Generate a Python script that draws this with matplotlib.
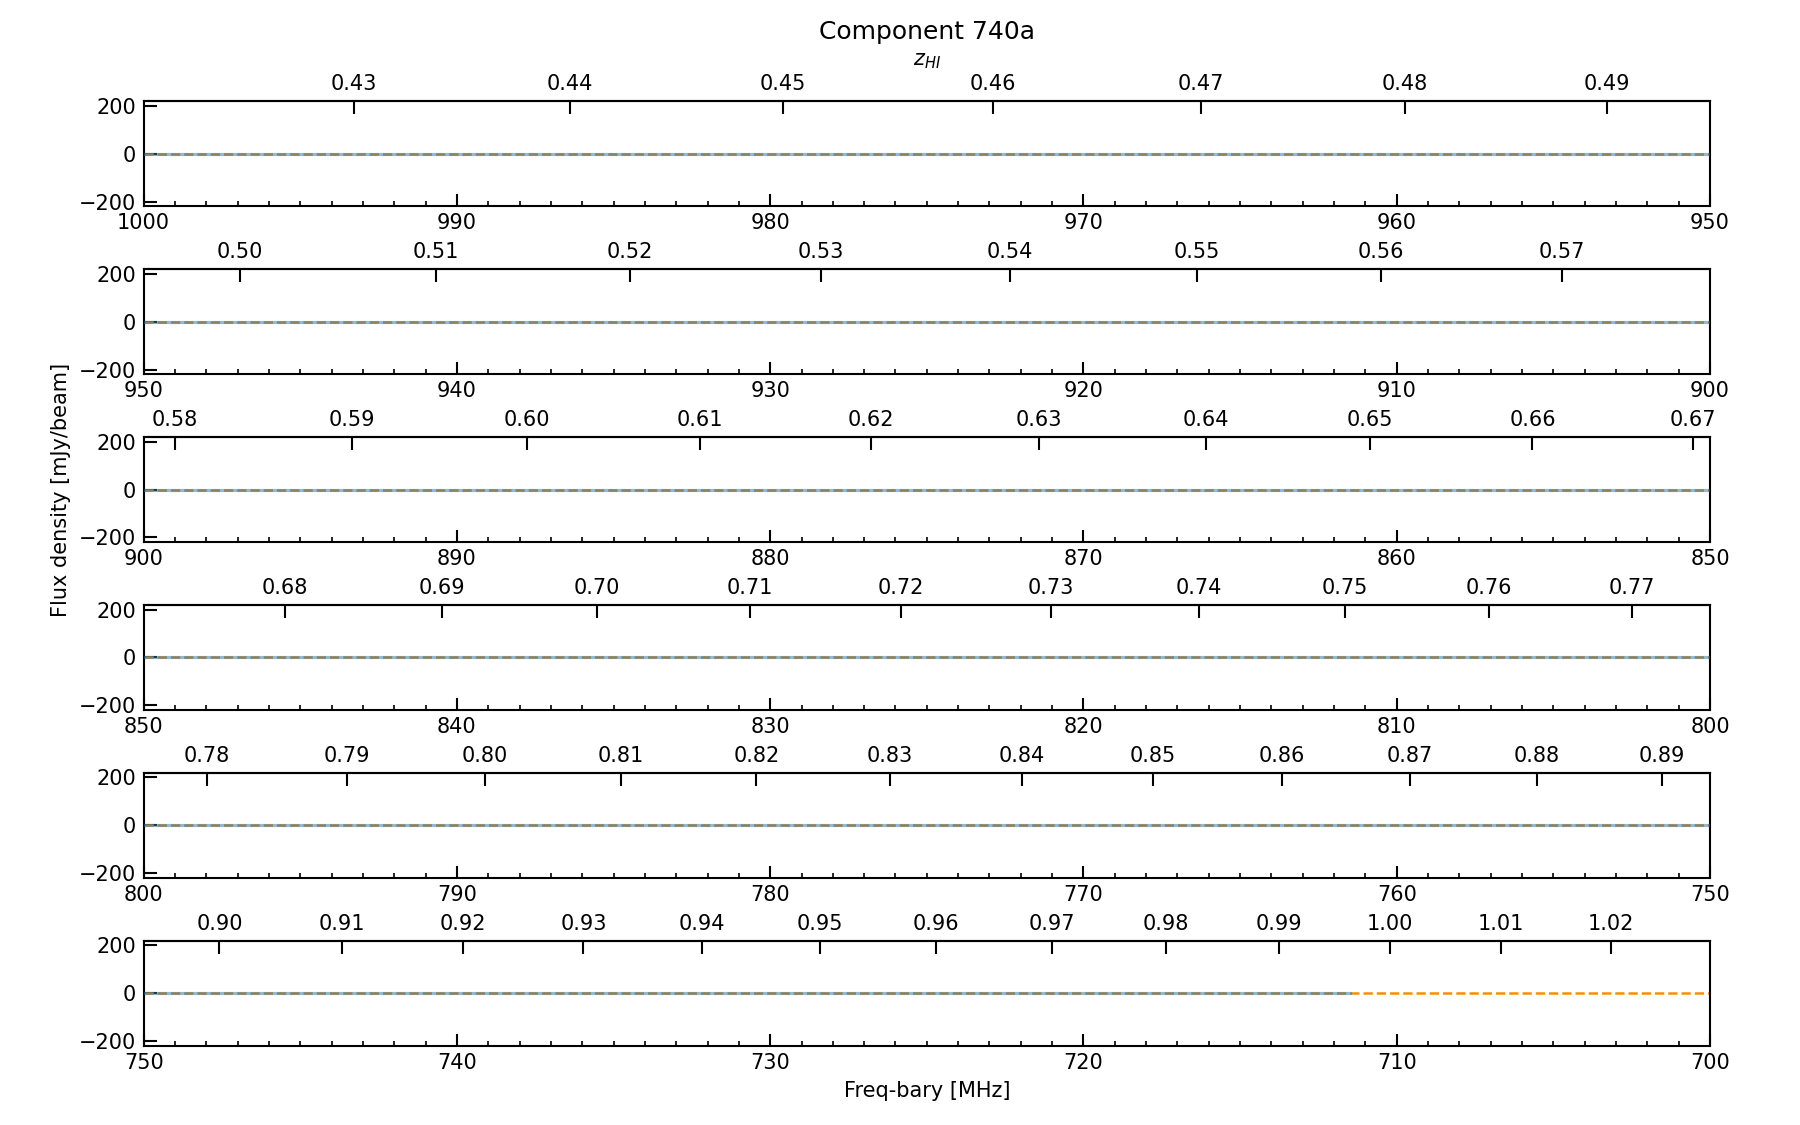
import numpy as np
import matplotlib
matplotlib.use("Agg")
import matplotlib.pyplot as plt
from matplotlib.ticker import MultipleLocator, FormatStrFormatter

# rest frequency of HI line [MHz]
HI_REST = 1420.405751

# spectrum (flat at ~0 mJy/beam, coverage ends near 711.5 MHz)
freq_mhz = [1000.0, 711.5]
flux_mjy = [0.0, 0.0]

# frequency windows shown in each panel (high -> low)
panel_hi = [1000, 950, 900, 850, 800, 750]
panel_lo = [950, 900, 850, 800, 750, 700]

y_ticks = [-200, 0, 200]
y_lim = (-219, 219)

title = "Component 740a"


def f2z(f):
    f = np.asarray(f, dtype=float)
    return HI_REST / f - 1.0


def z2f(z):
    z = np.asarray(z, dtype=float)
    return HI_REST / (1.0 + z)


plt.rcParams['font.size'] = 10
plt.rcParams['axes.linewidth'] = 1.0

fig, axes = plt.subplots(6, 1, figsize=(12, 7.5), dpi=150)
left, right = 0.0798, 0.95
fig.subplots_adjust(left=left, right=right, top=0.910, bottom=0.0704, hspace=0.6)

for i, ax in enumerate(axes):
    ax.axhline(0, color='darkorange', ls='--', lw=1.2, zorder=2)
    ax.plot(freq_mhz, flux_mjy, color='C0', lw=1.5, alpha=0.5, zorder=3)

    ax.set_xlim(panel_hi[i], panel_lo[i])
    ax.set_ylim(*y_lim)
    ax.set_yticks(y_ticks)
    ax.xaxis.set_major_locator(MultipleLocator(10))
    ax.xaxis.set_minor_locator(MultipleLocator(1))
    ax.tick_params(which='major', direction='in', length=6, width=1)
    ax.tick_params(which='minor', direction='in', length=2.5, width=0.8)

    sec = ax.secondary_xaxis('top', functions=(f2z, z2f))
    sec.xaxis.set_major_locator(MultipleLocator(0.01))
    sec.xaxis.set_major_formatter(FormatStrFormatter('%.2f'))
    sec.tick_params(direction='in', length=6, width=1)
    if i == 0:
        sec.set_xlabel('$z_{HI}$')

axes[2].set_ylabel('Flux density [mJy/beam]')
axes[-1].set_xlabel('Freq-bary [MHz]')
fig.text((left + right) / 2, 0.972, title, ha='center', va='center', fontsize=12)

fig.savefig('out.png', dpi=150)
